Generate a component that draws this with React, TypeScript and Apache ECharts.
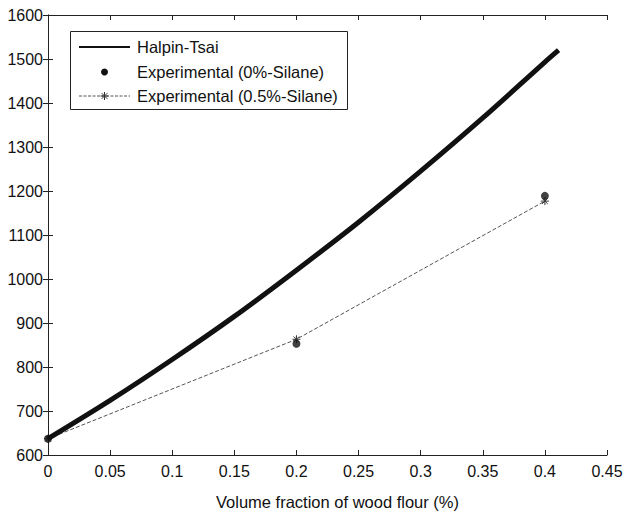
import React, { useEffect, useRef } from "react";
import * as echarts from "echarts";

const xHalpin = [0, 0.05, 0.1, 0.15, 0.2, 0.25, 0.3, 0.35, 0.4, 0.411];
const yHalpin = [637, 724, 817, 915, 1020, 1129, 1245, 1366, 1493, 1520];

const xExp = [0, 0.2, 0.4];
const yExp0 = [637, 853, 1189];
const yExp05 = [637, 863, 1177];

const xTicks = { min: 0, max: 0.45, interval: 0.05 };
const yTicks = { min: 600, max: 1600, interval: 100 };

const seriesNames = [
  "Halpin-Tsai",
  "Experimental (0%-Silane)",
  "Experimental (0.5%-Silane)",
];

const FONT = "Liberation Sans, Arial, Helvetica, sans-serif";
const AXC = "#222";

const star =
  "path://M0,5 L10,5 M5,0 L5,10 M1.5,1.5 L8.5,8.5 M8.5,1.5 L1.5,8.5";

export default function App() {
  const ref = useRef<HTMLDivElement>(null);
  useEffect(() => {
    if (!ref.current) return;
    const chart = echarts.init(ref.current, undefined, { renderer: "svg" });
    const zip = (xs: number[], ys: number[]) => xs.map((x, i) => [x, ys[i]]);
    const fmtX = (v: number) => String(Math.round(v * 100) / 100);
    const baseAxisLine = { show: true, lineStyle: { color: AXC, width: 1 } };
    const tickIn = { show: true, inside: true, length: 5, lineStyle: { color: AXC } };

    const lx0 = 79, lx1 = 130, tx = 137;
    const rows = [47, 72, 96];
    const textStyle = (t: string, y: number) => ({
      type: "text",
      left: tx,
      top: y - 9,
      style: { text: t, fontFamily: FONT, fontSize: 16.5, fill: "#111" },
    });
    const cx = (lx0 + lx1) / 2;
    const starPts = (x: number, y: number, r: number) => [
      { type: "line", shape: { x1: x - r, y1: y, x2: x + r, y2: y }, style: { stroke: "#333", lineWidth: 1 } },
      { type: "line", shape: { x1: x, y1: y - r, x2: x, y2: y + r }, style: { stroke: "#333", lineWidth: 1 } },
      { type: "line", shape: { x1: x - r * 0.7, y1: y - r * 0.7, x2: x + r * 0.7, y2: y + r * 0.7 }, style: { stroke: "#333", lineWidth: 1 } },
      { type: "line", shape: { x1: x + r * 0.7, y1: y - r * 0.7, x2: x - r * 0.7, y2: y + r * 0.7 }, style: { stroke: "#333", lineWidth: 1 } },
    ];

    chart.setOption({
      animation: false,
      backgroundColor: "#fff",
      grid: { left: 48, right: 18, top: 15, bottom: 56, containLabel: false, outerBoundsMode: "none" },
      graphic: [
        {
          type: "group",
          z: 100,
          children: [
            { type: "rect", shape: { x: 70.5, y: 31.5, width: 277, height: 78 }, style: { fill: "#fff", stroke: AXC, lineWidth: 1 } },
            { type: "line", shape: { x1: lx0, y1: rows[0], x2: lx1, y2: rows[0] }, style: { stroke: "#111", lineWidth: 2 } },
            { type: "circle", shape: { cx: cx, cy: rows[1], r: 3.5 }, style: { fill: "#111" } },
            { type: "line", shape: { x1: lx0, y1: rows[2], x2: lx1, y2: rows[2] }, style: { stroke: "#555", lineWidth: 1, lineDash: [3, 1.5] } },
            ...starPts(cx, rows[2], 4),
            textStyle(seriesNames[0], rows[0]),
            textStyle(seriesNames[1], rows[1]),
            textStyle(seriesNames[2], rows[2]),
          ],
        },
      ],
      xAxis: [
        {
          type: "value",
          min: xTicks.min,
          max: xTicks.max,
          interval: xTicks.interval,
          name: "Volume fraction of wood flour (%)",
          nameLocation: "middle",
          nameGap: 38,
          nameTextStyle: { fontFamily: FONT, fontSize: 16.5, color: "#111", padding: [0, 0, 0, 20] },
          axisLine: baseAxisLine,
          axisTick: tickIn,
          splitLine: { show: false },
          axisLabel: { fontFamily: FONT, fontSize: 16, color: "#111", margin: 8, formatter: fmtX },
        },
        {
          type: "value",
          position: "top",
          min: xTicks.min,
          max: xTicks.max,
          interval: xTicks.interval,
          axisLine: baseAxisLine,
          axisTick: tickIn,
          axisLabel: { show: false },
          splitLine: { show: false },
        },
      ],
      yAxis: [
        {
          type: "value",
          min: yTicks.min,
          max: yTicks.max,
          interval: yTicks.interval,
          axisLine: baseAxisLine,
          axisTick: tickIn,
          splitLine: { show: false },
          axisLabel: { fontFamily: FONT, fontSize: 16, color: "#111", margin: 5, formatter: (v: number) => String(v) },
        },
        {
          type: "value",
          position: "right",
          min: yTicks.min,
          max: yTicks.max,
          interval: yTicks.interval,
          axisLine: baseAxisLine,
          axisTick: tickIn,
          axisLabel: { show: false },
          splitLine: { show: false },
        },
      ],
      series: [
        {
          name: seriesNames[0],
          type: "line",
          data: zip(xHalpin, yHalpin),
          smooth: 0.3,
          showSymbol: false,
          symbol: "none",
          lineStyle: { color: "#111", width: 5 },
          itemStyle: { color: "#111" },
          z: 3,
        },
        {
          name: seriesNames[2],
          type: "line",
          data: zip(xExp, yExp05),
          symbol: star,
          symbolSize: 8,
          lineStyle: { color: "#555", width: 1, type: [4, 2] },
          itemStyle: { color: "none", borderColor: "#333", borderWidth: 1 },
          z: 2,
        },
        {
          name: seriesNames[1],
          type: "scatter",
          data: zip(xExp, yExp0),
          symbol: "circle",
          symbolSize: 8,
          itemStyle: { color: "#111" },
          z: 4,
        },
      ],
    });
    return () => chart.dispose();
  }, []);
  return (
    <div
      ref={ref}
      style={{ position: "fixed", left: 0, top: 0, width: 625, height: 511, background: "#fff" }}
    />
  );
}
